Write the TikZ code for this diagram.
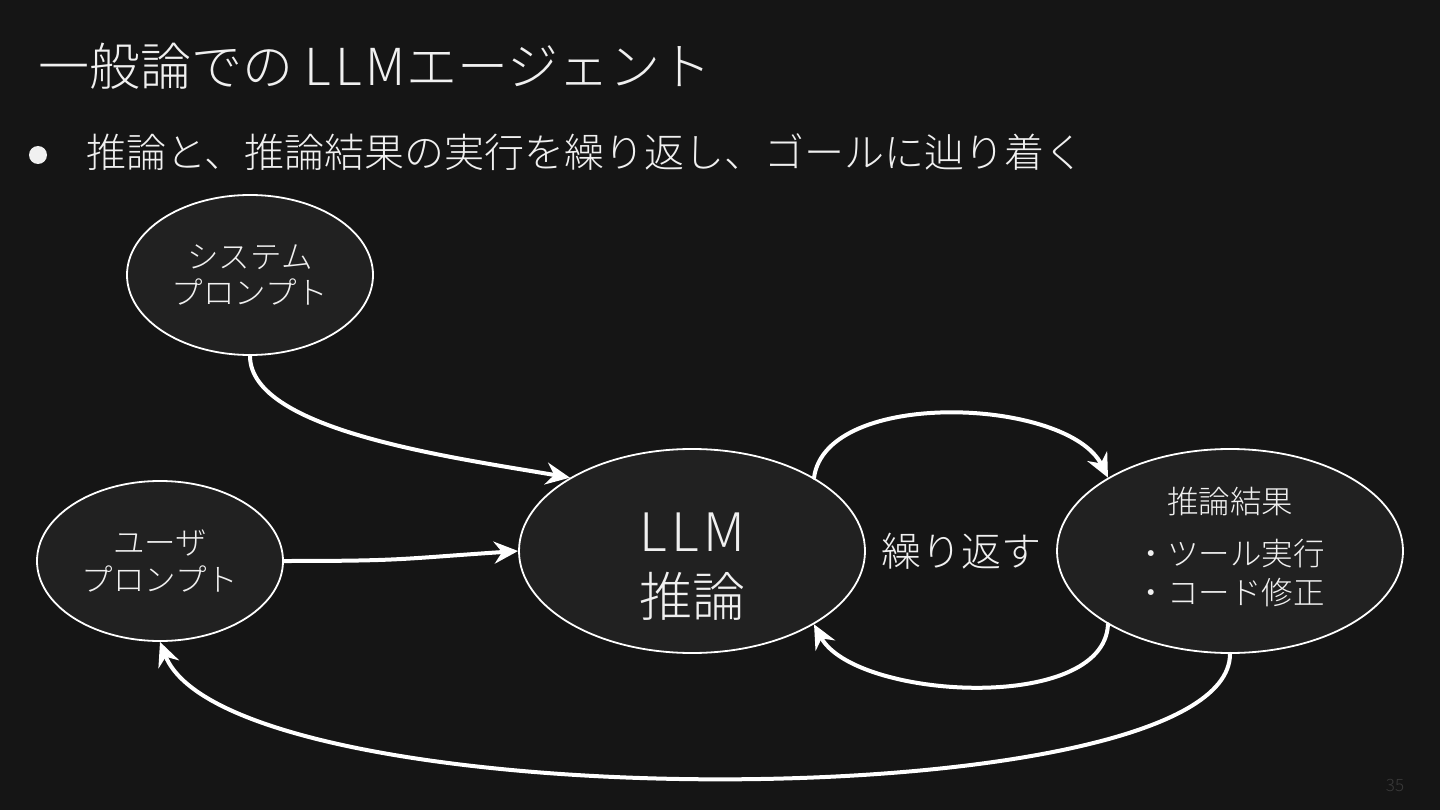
\documentclass[tikz,border=0pt]{standalone}
\usepackage{fontspec}
\setmainfont{Noto Sans CJK JP}[UprightFont={* Light}]
\newfontfamily\latinf{Noto Sans CJK JP}[UprightFont={* Light}, LetterSpace=8]
\usetikzlibrary{arrows.meta,shapes.geometric}
\definecolor{bgc}{HTML}{151515}
\definecolor{fillc}{HTML}{212121}
\definecolor{txt}{HTML}{F0F0F0}
\definecolor{pgc}{HTML}{3A3A3A}
\begin{document}
\begin{tikzpicture}[x=1pt,y=-1pt,
  bubble/.style={ellipse, draw=white, line width=1.8pt, fill=fillc, inner sep=0pt, text=txt, align=center},
  flow/.style={draw=white, line width=4pt, line cap=round, -{Stealth[length=24pt,width=22pt,inset=8pt]}},
  plain/.style={text=txt, inner sep=0pt, anchor=west}]
\fill[bgc] (0,0) rectangle (1440,810);
\useasboundingbox (0,0) rectangle (1440,810);

% title and bullet
\node[plain, font=\fontsize{51}{60}\selectfont] (title) at (38,66) {一般論での {\latinf LLM}エージェント};
\node[circle, fill=txt, minimum size=18pt, inner sep=0pt] (dot) at (38,155) {};
\node[plain, font=\fontsize{40}{46}\selectfont] (sub) at (86,152) {推論と、推論結果の実行を繰り返し、ゴールに辿り着く};

% nodes
\node[bubble, minimum width=246pt, minimum height=160pt, font=\fontsize{31.5}{36}\selectfont] (sys) at (250,275) {システム\\プロンプト};
\node[bubble, minimum width=246pt, minimum height=160pt, font=\fontsize{31.5}{37}\selectfont] (user) at (160,561) {ユーザ\\プロンプト};
\node[bubble, minimum width=346pt, minimum height=204pt, font=\fontsize{53}{65}\selectfont] (llm) at (692,551) {\rule{0pt}{70pt}{\latinf LLM}\\推論};
\node[bubble, minimum width=346pt, minimum height=204pt, font=\fontsize{31.5}{39}\selectfont] (res) at (1230,551) {\raisebox{7pt}{\begin{tabular}{@{}c@{}}推論結果\\[13pt]・ツール実行\\・コード修正\end{tabular}}};
\node[plain, anchor=center, font=\fontsize{40}{46}\selectfont] (rep) at (961,551) {繰り返す};
\node[plain, anchor=center, text=pgc, font=\fontsize{17}{20}\selectfont] (page) at (1395,785) {35};

% connectors
\draw[flow] (sys.south) .. controls +(0,75) and +(-115,-20) .. (llm.149);
\draw[flow] (user.east) .. controls +(120,0) and +(-120,8) .. (llm.west);
\draw[flow] (llm.31) .. controls +(12,-90) and +(-40,-80) .. (res.149);
\draw[flow] (res.211) .. controls +(-4,90) and +(40,75) .. (llm.329);
\draw[flow] (res.south) .. controls +(0,167) and +(70,179) .. (user.south);
\end{tikzpicture}
\end{document}
